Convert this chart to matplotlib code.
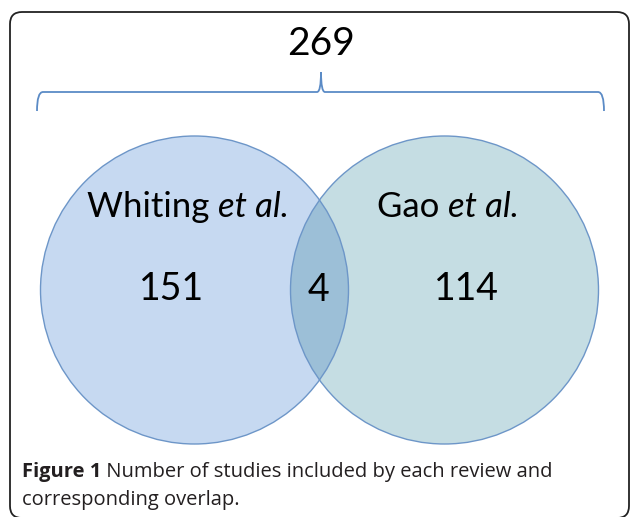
import matplotlib.pyplot as plt
from matplotlib.patches import Circle, FancyBboxPatch, PathPatch
from matplotlib.path import Path

# counts
labels = ['Whiting', 'Gao']
only_counts = [151, 114]
overlap_count = 4
total_count = 269
caption_bold = 'Figure 1'
caption_rest = ' Number of studies included by each review and'
caption_line2 = 'corresponding overlap.'

fig = plt.figure(figsize=(6.3, 5.17), dpi=100)
ax = fig.add_axes([0, 0, 1, 1])
ax.set_xlim(0, 630)
ax.set_ylim(517, 0)
ax.axis('off')

# frame
frame = FancyBboxPatch((10, 12), 619, 506, boxstyle='round,pad=0,rounding_size=12',
                       fc='white', ec='#222222', lw=1.3)
ax.add_patch(frame)

left_c = (194.5, 290)
right_c = (444.5, 290)
r = 154

c1 = Circle(left_c, r, fc='#C6D9F1', ec='none')
c2 = Circle(right_c, r, fc='#C5DDE3', ec='none')
ax.add_patch(c1)
ax.add_patch(c2)
lens = Circle(left_c, r, fc='#9CBFD7', ec='none')
ax.add_patch(lens)
lens.set_clip_path(c2)
for c in (left_c, right_c):
    ax.add_patch(Circle(c, r, fc='none', ec='#6D96C8', lw=1.0))

# brace
bx0, bx1, bmid = 37, 604, 321
by_end, by_line, by_tip = 111, 92, 72
verts = [(bx0, by_end), (bx0, by_line), (bx0 + 6, by_line),
         (bmid - 4, by_line), (bmid, by_line), (bmid, by_tip),
         (bmid, by_line), (bmid + 4, by_line),
         (bx1 - 6, by_line), (bx1, by_line), (bx1, by_end)]
codes = [Path.MOVETO, Path.CURVE3, Path.CURVE3,
         Path.LINETO, Path.CURVE3, Path.CURVE3,
         Path.CURVE3, Path.CURVE3,
         Path.LINETO, Path.CURVE3, Path.CURVE3]
ax.add_patch(PathPatch(Path(verts, codes), fc='none', ec='#5B8BC6', lw=1.3))

font = 'Lato'
renderer = fig.canvas.get_renderer()


def run_text(x, y, pieces, center=False, **kw):
    # pieces: list of (text, style dict); laid out left to right
    arts = []
    for s, st in pieces:
        a = ax.text(0, y, s, va='center', **kw, **st)
        arts.append(a)
    widths = [a.get_window_extent(renderer).width for a in arts]
    x0 = x - sum(widths) / 2 if center else x
    for a, w in zip(arts, widths):
        a.set_x(x0)
        x0 += w


ax.text(321, 44, str(total_count), fontsize=28, family=font, ha='center', va='center')
for cx, lab in zip([188, 448], labels):
    run_text(cx, 207, [(lab + ' ', {}), ('et al.', {'style': 'italic'})],
             center=True, fontsize=25, family=font)
ax.text(172, 289, str(only_counts[0]), fontsize=27, family=font, ha='center', va='center')
ax.text(466, 289, str(only_counts[1]), fontsize=27, family=font, ha='center', va='center')
ax.text(319, 290, str(overlap_count), fontsize=27, family=font, ha='center', va='center')

run_text(22, 472, [(caption_bold, {'weight': 'bold'}), (caption_rest, {})],
         fontsize=14.5, family='Open Sans', color='#231F20')
ax.text(22, 500, caption_line2, fontsize=14.5, family='Open Sans', color='#231F20', va='center')

fig.savefig('out.png', dpi=100)
